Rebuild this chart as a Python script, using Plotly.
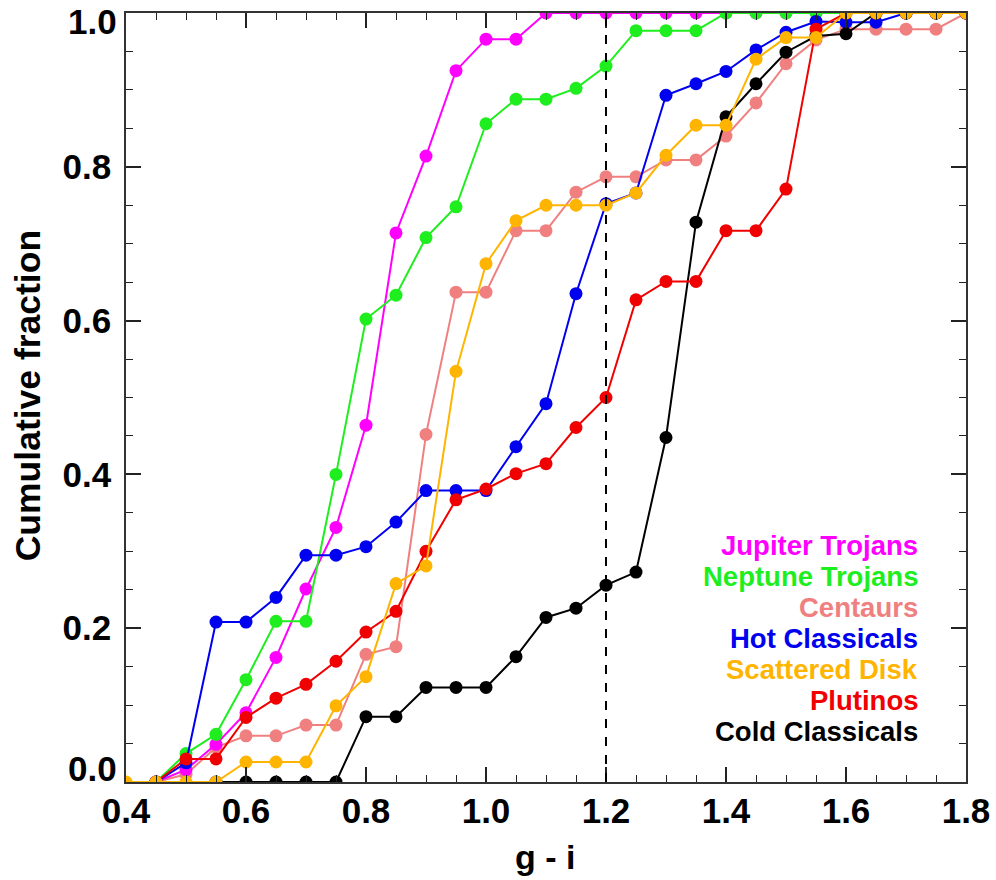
import plotly.graph_objects as go

# g - i colour bins
GI = [0.40, 0.45, 0.50, 0.55, 0.60, 0.65, 0.70, 0.75, 0.80, 0.85,
      0.90, 0.95, 1.00, 1.05, 1.10, 1.15, 1.20, 1.25, 1.30, 1.35,
      1.40, 1.45, 1.50, 1.55, 1.60, 1.65, 1.70, 1.75, 1.80]

jupiter_trojans = [None, 0.0, 0.016, 0.049, 0.090, 0.162, 0.251, 0.331, 0.464, 0.714,
                   0.814, 0.925, 0.966, 0.966, 1.0, 1.0, 1.0, 1.0, 1.0, 1.0,
                   1.0, 1.0, 1.0, 1.0, 1.0, 1.0, 1.0, 1.0, 1.0]
neptune_trojans = [None, 0.0, 0.037, 0.062, 0.133, 0.209, 0.209, 0.400, 0.602, 0.633,
                   0.708, 0.748, 0.856, 0.888, 0.888, 0.902, 0.931, 0.977, 0.977, 0.977,
                   1.0, 1.0, 1.0, 1.0, 1.0, 1.0, 1.0, 1.0, 1.0]
centaurs = [None, 0.0, 0.010, 0.045, 0.060, 0.060, 0.074, 0.074, 0.166, 0.176,
            0.452, 0.637, 0.637, 0.717, 0.717, 0.767, 0.787, 0.787, 0.809, 0.809,
            0.840, 0.883, 0.934, 0.965, 0.979, 0.979, 0.979, 0.979, 1.0]
hot_classicals = [None, 0.0, 0.025, 0.208, 0.208, 0.240, 0.295, 0.295, 0.306, 0.338,
                  0.379, 0.379, 0.379, 0.436, 0.492, 0.635, 0.752, 0.766, 0.893, 0.908,
                  0.924, 0.952, 0.975, 0.989, 0.988, 0.988, 1.0, 1.0, 1.0]
scattered_disk = [0.0, 0.0, 0.0, 0.0, 0.026, 0.026, 0.026, 0.099, 0.137, 0.258,
                  0.281, 0.534, 0.674, 0.730, 0.750, 0.750, 0.750, 0.766, 0.815, 0.854,
                  0.854, 0.940, 0.968, 0.968, 1.0, 1.0, 1.0, 1.0, 1.0]
plutinos = [None, 0.0, 0.030, 0.030, 0.084, 0.109, 0.127, 0.157, 0.195, 0.222,
            0.300, 0.367, 0.381, 0.401, 0.414, 0.461, 0.500, 0.627, 0.651, 0.651,
            0.717, 0.717, 0.771, 0.979, 1.0, 1.0, 1.0, 1.0, 1.0]
cold_classicals = [None, None, None, 0.0, 0.0, 0.0, 0.0, 0.0, 0.085, 0.085,
                   0.123, 0.123, 0.123, 0.163, 0.214, 0.226, 0.256, 0.273, 0.448, 0.728,
                   0.865, 0.908, 0.949, 0.970, 0.973, 1.0, 1.0, 1.0, 1.0]

SERIES_NAMES = ["Jupiter Trojans", "Neptune Trojans", "Centaurs", "Hot Classicals",
                "Scattered Disk", "Plutinos", "Cold Classicals"]
SERIES_VALUES = {
    "Jupiter Trojans": jupiter_trojans,
    "Neptune Trojans": neptune_trojans,
    "Centaurs": centaurs,
    "Hot Classicals": hot_classicals,
    "Scattered Disk": scattered_disk,
    "Plutinos": plutinos,
    "Cold Classicals": cold_classicals,
}
COLORS = {
    "Jupiter Trojans": "#FF00FF",
    "Neptune Trojans": "#1EEE1E",
    "Centaurs": "#F08080",
    "Hot Classicals": "#0000F0",
    "Scattered Disk": "#FFB400",
    "Plutinos": "#F00000",
    "Cold Classicals": "#000000",
}
DRAW_ORDER = ["Centaurs", "Jupiter Trojans", "Neptune Trojans", "Hot Classicals",
              "Cold Classicals", "Plutinos", "Scattered Disk"]
CUT_GI = 1.2

X_TICKS = [0.4, 0.6, 0.8, 1.0, 1.2, 1.4, 1.6, 1.8]
Y_TICKS = [0.0, 0.2, 0.4, 0.6, 0.8, 1.0]
X_TITLE = "g - i"
Y_TITLE = "Cumulative fraction"

FONT = "Liberation Sans, Arial, Helvetica, sans-serif"
TICK_SIZE = 35

fig = go.Figure()
for name in DRAW_ORDER:
    fig.add_trace(go.Scatter(
        x=GI, y=SERIES_VALUES[name], mode="lines+markers", name=name,
        line=dict(color=COLORS[name], width=2),
        marker=dict(color=COLORS[name], size=13),
        connectgaps=False, showlegend=False, cliponaxis=True,
    ))

fig.add_vline(x=CUT_GI, line=dict(color="black", width=2, dash="dash"))

# legend as coloured text, right aligned
for i, name in enumerate(SERIES_NAMES):
    fig.add_annotation(
        x=0.9417, y=0.3077 - i * 0.04034, xref="paper", yref="paper",
        text=f"<b>{name}</b>", showarrow=False, xanchor="right", yanchor="middle",
        xshift=2, borderpad=0,
        font=dict(family=FONT, size=27.5, color=COLORS[name]),
    )

# end labels of the y axis sit inside the axis span (clamped like the original)
y_ticktext = []
for v in Y_TICKS:
    if v in (min(Y_TICKS), max(Y_TICKS)):
        y_ticktext.append("")
        fig.add_annotation(
            x=0, y=v, xref="paper", yref="y", text=f"<b>{v:.1f}</b>", showarrow=False,
            xanchor="right", yanchor="bottom" if v == min(Y_TICKS) else "top",
            xshift=-7, yshift=-8 if v == min(Y_TICKS) else 13,
            font=dict(family=FONT, size=TICK_SIZE, color="black"),
        )
    else:
        y_ticktext.append(f"{v:.1f}")

# axis titles
fig.add_annotation(x=0.4988, y=-0.098, xref="paper", yref="paper", text=f"<b>{X_TITLE}</b>",
                   showarrow=False, xanchor="center", yanchor="middle",
                   font=dict(family=FONT, size=34, color="black"))
fig.add_annotation(x=-0.117, y=0.5025, xref="paper", yref="paper", text=f"<b>{Y_TITLE}</b>",
                   showarrow=False, xanchor="center", yanchor="middle", textangle=-90,
                   font=dict(family=FONT, size=35.5, color="black"))

axis_common = dict(
    showline=True, linecolor="#333333", linewidth=1.5, mirror="allticks",
    ticks="inside", ticklen=15, tickwidth=1.5, tickcolor="#222222",
    showgrid=False, zeroline=False, automargin=False,
    tickfont=dict(family=FONT, size=TICK_SIZE, color="black", weight="bold"),
    minor=dict(ticks="inside", ticklen=7, tickwidth=1.2, tickcolor="#222222", showgrid=False),
)

fig.update_xaxes(
    range=[0.4, 1.8], tickvals=X_TICKS, ticktext=[f"{v:.1f}" for v in X_TICKS],
    minor_dtick=0.05, minor_tick0=0.4, ticklabelstandoff=-3,
    **axis_common,
)
fig.update_yaxes(
    range=[0, 1], tickvals=Y_TICKS, ticktext=y_ticktext,
    minor_dtick=0.05, minor_tick0=0.0, ticklabelstandoff=6,
    **axis_common,
)

fig.update_layout(
    width=996, height=880,
    margin=dict(l=126, r=30, t=13, b=98, pad=0),
    paper_bgcolor="white", plot_bgcolor="white",
    showlegend=False,
)

fig.write_html("out.html")
